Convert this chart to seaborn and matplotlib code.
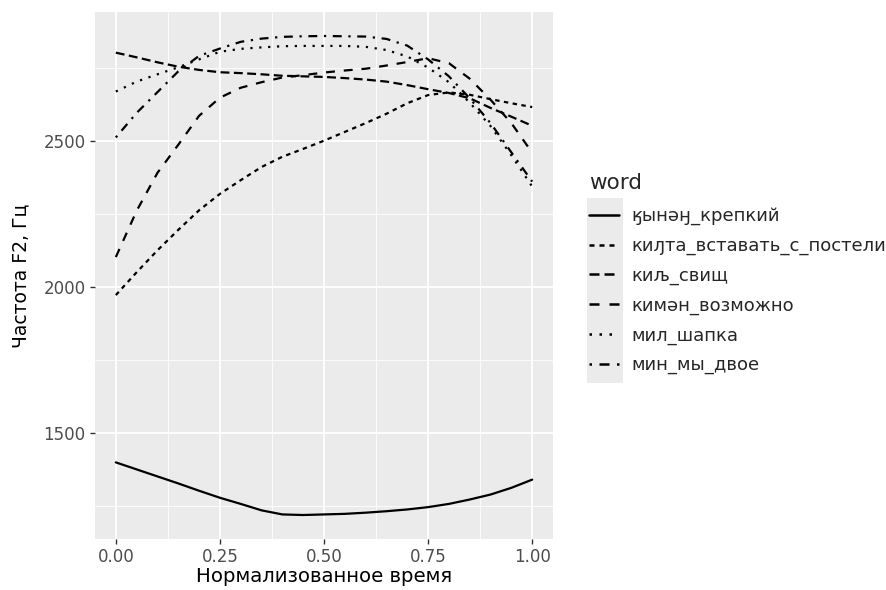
import numpy as np
import pandas as pd
import matplotlib
matplotlib.use("Agg")
import matplotlib.pyplot as plt
from matplotlib.patches import Rectangle
from matplotlib.ticker import MultipleLocator
import seaborn as sns

# normalised time grid and smoothed F2 per word
time = [0.0, 0.05, 0.1, 0.15, 0.2, 0.25, 0.3, 0.35, 0.4, 0.45, 0.5,
        0.55, 0.6, 0.65, 0.7, 0.75, 0.8, 0.85, 0.9, 0.95, 1.0]

words = ["ӄынәӈ_крепкий", "киԓта_вставать_с_постели", "киљ_свищ",
         "кимән_возможно", "мил_шапка", "мин_мы_двое"]

f2_kynang = [1400, 1376, 1352, 1328, 1303, 1279, 1258, 1236, 1222, 1220, 1222,
             1224, 1228, 1233, 1239, 1247, 1258, 1273, 1290, 1313, 1341]
f2_kilta = [1972, 2050, 2125, 2195, 2262, 2318, 2365, 2410, 2445, 2472, 2500,
            2530, 2560, 2592, 2628, 2656, 2665, 2657, 2642, 2628, 2615]
f2_kil = [2801, 2785, 2768, 2753, 2742, 2734, 2731, 2727, 2722, 2720, 2718,
          2714, 2709, 2702, 2690, 2676, 2663, 2645, 2612, 2582, 2551]
f2_kiman = [2102, 2260, 2390, 2486, 2585, 2647, 2681, 2700, 2716, 2724, 2733,
            2740, 2746, 2757, 2769, 2782, 2765, 2712, 2640, 2560, 2459]
f2_mil = [2668, 2702, 2727, 2751, 2778, 2804, 2814, 2819, 2823, 2824, 2824,
          2824, 2821, 2810, 2788, 2750, 2700, 2630, 2550, 2450, 2343]
f2_min = [2511, 2595, 2666, 2737, 2790, 2815, 2838, 2849, 2855, 2857, 2858,
          2857, 2856, 2848, 2825, 2778, 2720, 2645, 2560, 2460, 2360]

series = [f2_kynang, f2_kilta, f2_kil, f2_kiman, f2_mil, f2_min]
df = pd.concat([pd.DataFrame({"time": time, "f2": vals, "word": w})
                for w, vals in zip(words, series)], ignore_index=True)
df["word"] = pd.Categorical(df["word"], categories=words, ordered=True)

sns.set_theme(style="darkgrid")
plt.rcParams["font.family"] = ["DejaVu Sans", "Liberation Sans"]

W, H = 886, 590
fig = plt.figure(figsize=(W / 100, H / 100), dpi=100)
ax = fig.add_axes([95 / W, 1 - 539 / H, 458 / W, 527 / H])
ax.set_facecolor("#EBEBEB")

# ggplot default linetypes: solid, 22, 42, 44, 13, 1343
dash_styles = ["", (2, 2), (4, 2), (4, 4), (1, 3), (1, 3, 4, 3)]
sns.lineplot(data=df, x="time", y="f2", style="word", dashes=dash_styles,
             color="black", linewidth=1.6, ax=ax, legend=True)

ax.set_xlim(-0.05, 1.05)
ax.set_ylim(1138, 2940)
ax.set_xticks([0.0, 0.25, 0.5, 0.75, 1.0])
ax.set_xticklabels(["0.00", "0.25", "0.50", "0.75", "1.00"])
ax.set_yticks([1500, 2000, 2500])
ax.xaxis.set_minor_locator(MultipleLocator(0.125))
ax.yaxis.set_minor_locator(MultipleLocator(250))
ax.grid(which="major", color="white", linewidth=1.3)
ax.grid(which="minor", color="white", linewidth=0.6)
ax.set_axisbelow(True)
for s in ax.spines.values():
    s.set_visible(False)
ax.tick_params(axis="both", which="major", length=3.8, width=1.0, color="#333333",
               labelsize=12, labelcolor="#4D4D4D", bottom=True, left=True)
ax.tick_params(axis="x", pad=2.5)
ax.tick_params(axis="y", pad=3)
ax.tick_params(which="minor", length=0)

ax.set_xlabel("Нормализованное время", fontsize=14.2, color="black")
ax.set_ylabel("Частота F2, Гц", fontsize=13.5, color="black")
ax.xaxis.set_label_coords(0.5, -(567.5 - 539) / 527)
ax.yaxis.set_label_coords(-(95 - 30) / 458, 0.5)

handles, labels = ax.get_legend_handles_labels()
ax.get_legend().remove()

# gray key column like ggplot legend keys
fig.patches.append(Rectangle((587 / W, 1 - 383 / H), 36 / W, 185 / H,
                             transform=fig.transFigure, facecolor="#EBEBEB",
                             edgecolor="none", zorder=0))

leg = fig.legend(handles, labels, title="word", loc="upper left",
                 bbox_to_anchor=(582 / W, 1 - 166 / H), frameon=False,
                 fontsize=13, title_fontsize=15.5, handlelength=1.67,
                 handletextpad=0.65, labelspacing=0.64, alignment="left",
                 borderaxespad=0)
leg._legend_box.sep = 10
for line in leg.get_lines():
    line.set_linewidth(1.8)

fig.savefig("out.png", dpi=100)
